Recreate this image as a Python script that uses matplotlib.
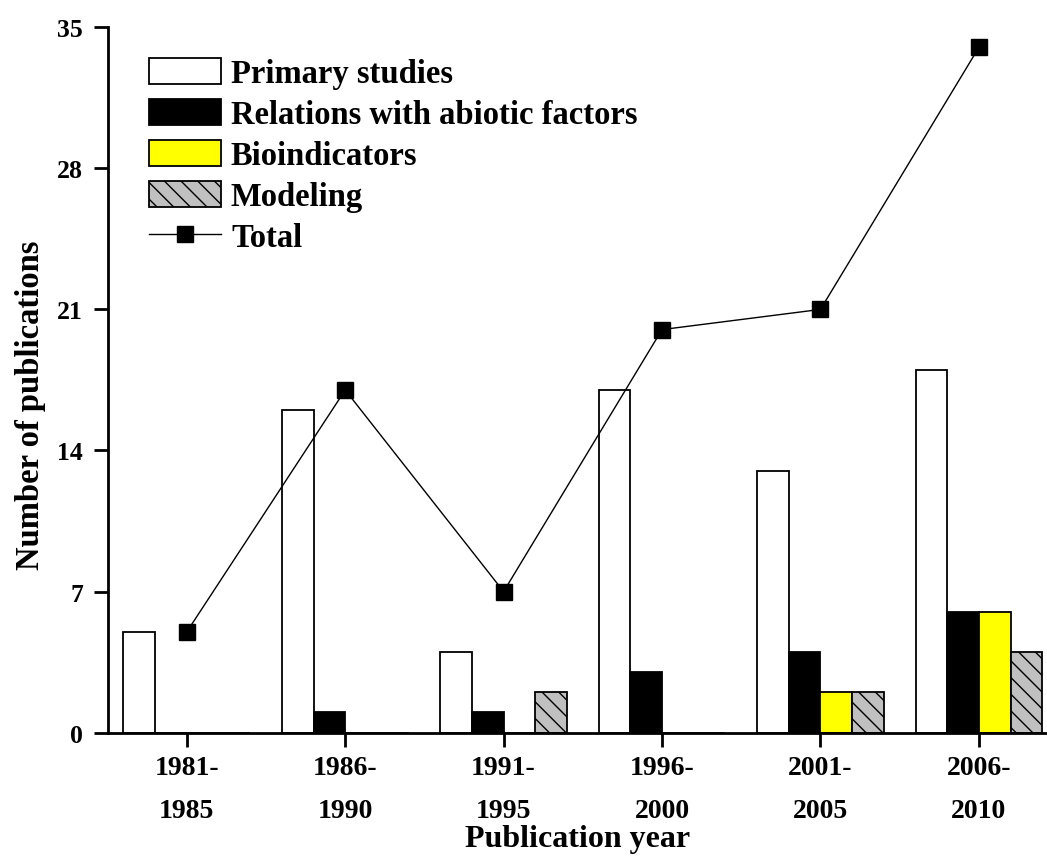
import numpy as np
import matplotlib
matplotlib.use("Agg")
import matplotlib.pyplot as plt

plt.rcParams['font.family'] = ['Liberation Serif', 'DejaVu Serif']
plt.rcParams['font.weight'] = 'bold'
plt.rcParams['hatch.linewidth'] = 1.0

# data
periods = ["1981-\n1985", "1986-\n1990", "1991-\n1995", "1996-\n2000", "2001-\n2005", "2006-\n2010"]
primary = [5, 16, 4, 17, 13, 18]
abiotic = [0, 1, 1, 3, 4, 6]
bioind = [0, 0, 0, 0, 2, 6]
modeling = [0, 0, 2, 0, 2, 4]
total = [5, 17, 7, 20, 21, 34]
yticks = [0, 7, 14, 21, 28, 35]

fig = plt.figure(figsize=(10.47, 8.62), dpi=100)
ax = fig.add_axes([0.1032, 0.1489, 0.8968, 0.8183])

x = np.arange(len(periods))
w = 0.2
ec = 'black'
lw = 1.3
b1 = ax.bar(x - 1.5 * w, primary, w, color='white', edgecolor=ec, linewidth=lw, label='Primary studies')
b2 = ax.bar(x - 0.5 * w, abiotic, w, color='black', edgecolor=ec, linewidth=lw, label='Relations with abiotic factors')
b3 = ax.bar(x + 0.5 * w, bioind, w, color='#ffff00', edgecolor=ec, linewidth=lw, label='Bioindicators')
b4 = ax.bar(x + 1.5 * w, modeling, w, color='#c0c0c0', edgecolor=ec, linewidth=lw, hatch='\\\\', label='Modeling')

ln, = ax.plot(x, total, color='black', linewidth=1.0, marker='s', markersize=11,
              markerfacecolor='black', markeredgecolor='black', label='Total')

ax.set_xlim(-0.497, 5.43)
ax.set_ylim(0, 35)
ax.set_yticks(yticks)
ax.set_xticks(x)
ax.set_xticklabels(periods, fontsize=20, fontweight='bold', linespacing=1.95)
for t in ax.get_yticklabels():
    t.set_fontsize(18.5)
    t.set_fontweight('bold')

for s in ['top', 'right']:
    ax.spines[s].set_visible(False)
for s in ['left', 'bottom']:
    ax.spines[s].set_linewidth(2)
ax.tick_params(axis='both', direction='out', width=2, length=10)
ax.tick_params(axis='y', pad=8)
ax.tick_params(axis='x', pad=6)

ax.set_xlabel('Publication year', fontsize=23, fontweight='bold', labelpad=1)
ax.set_ylabel('Number of publications', fontsize=23.5, fontweight='bold', labelpad=8)
ax.yaxis.label.set_y(0.466)

leg = ax.legend(handles=[b1, b2, b3, b4, ln], loc='upper left', bbox_to_anchor=(0.044, 0.957),
                frameon=False, fontsize=23.5, handlelength=2.2, handleheight=0.85,
                handletextpad=0.3, labelspacing=0.3, borderpad=0, borderaxespad=0)
for t in leg.get_texts():
    t.set_fontweight('bold')

fig.savefig('out.png', dpi=100)
